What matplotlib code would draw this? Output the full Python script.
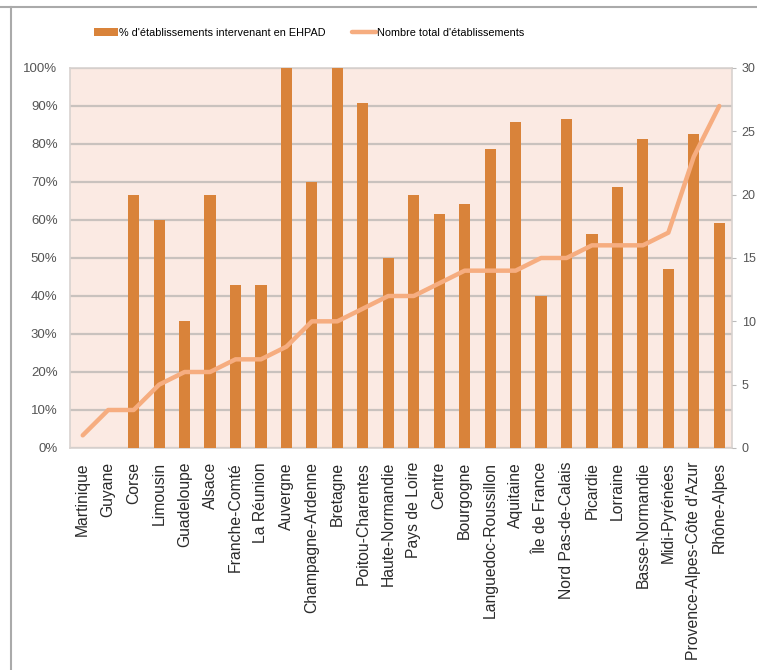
import matplotlib as mpl
mpl.use('Agg')
import matplotlib.pyplot as plt
from matplotlib.lines import Line2D
import numpy as np

regions = ["Martinique", "Guyane", "Corse", "Limousin", "Guadeloupe", "Alsace",
           "Franche-Comté", "La Réunion", "Auvergne", "Champagne-Ardenne", "Bretagne",
           "Poitou-Charentes", "Haute-Normandie", "Pays de Loire", "Centre", "Bourgogne",
           "Languedoc-Roussillon", "Aquitaine", "Île de France", "Nord Pas-de-Calais",
           "Picardie", "Lorraine", "Basse-Normandie", "Midi-Pyrénées",
           "Provence-Alpes-Côte d'Azur", "Rhône-Alpes"]
# % of establishments intervening in EHPAD (left axis)
pct_ehpad = [0, 0, 66.7, 60.0, 33.3, 66.7, 42.9, 42.9, 100, 70.0, 100, 90.9,
             50.0, 66.7, 61.5, 64.3, 78.6, 85.7, 40.0, 86.7, 56.3, 68.8, 81.3,
             47.1, 82.6, 59.3]
# total number of establishments (right axis)
nb_total = [1, 3, 3, 5, 6, 6, 7, 7, 8, 10, 10, 11, 12, 12, 13, 14, 14, 14, 15,
            15, 16, 16, 16, 17, 23, 27]
left_ticks = [0, 10, 20, 30, 40, 50, 60, 70, 80, 90, 100]
right_ticks = [0, 5, 10, 15, 20, 25, 30]

bar_color = "#D9833A"
line_color = "#F6AD80"
bg_color = "#FBEAE3"
grid_color = "#C9C2BE"
label_font = ['Liberation Sans', 'DejaVu Sans']
narrow_font = ['Liberation Sans Narrow', 'Liberation Sans', 'DejaVu Sans']

W, H = 757, 670
fig = plt.figure(figsize=(W / 100, H / 100), dpi=100)
ax = fig.add_axes([70 / W, 222 / H, 662 / W, 380 / H])
ax.set_facecolor(bg_color)

x = np.arange(len(regions))
ax.bar(x, pct_ehpad, width=0.44, color=bar_color, zorder=3,
       label="% d'établissements intervenant en EHPAD")
ax.set_ylim(0, 100)
ax.set_xlim(-0.5, len(regions) - 0.5)
ax.set_yticks(left_ticks)
ax.set_yticklabels(["%d%%" % t for t in left_ticks], family=narrow_font, fontsize=9.5,
                   color="#555555")
ax.yaxis.grid(True, color=grid_color, lw=1.6, zorder=0)
ax.set_axisbelow(True)
ax.tick_params(axis='y', length=0, pad=9)
ax.set_xticks(x)
ax.set_xticklabels(regions, rotation=90, family=label_font, fontsize=11.3, color="#2a2a2a")
ax.tick_params(axis='x', length=0, pad=10)
for s in ax.spines.values():
    s.set_color("#D8D2CF")
    s.set_linewidth(1.2)

ax2 = ax.twinx()
ax2.plot(x, nb_total, color=line_color, lw=3.2, solid_joinstyle='round',
         solid_capstyle='round', zorder=4, label="Nombre total d'établissements")
ax2.set_ylim(0, 30)
ax2.set_yticks(right_ticks)
ax2.set_yticklabels([str(t) for t in right_ticks], family=narrow_font, fontsize=9,
                    color="#555555")
ax2.tick_params(axis='y', length=3, color="#BBBBBB", pad=4)
for s in ax2.spines.values():
    s.set_visible(False)

h1, l1 = ax.get_legend_handles_labels()
h2, l2 = ax2.get_legend_handles_labels()
fig.legend(h1 + h2, l1 + l2, loc='center', bbox_to_anchor=(309 / W, 1 - 33 / H),
           ncol=2, frameon=False, prop={'family': narrow_font, 'size': 7.8},
           handlelength=2.2, handletextpad=0.1, columnspacing=2.5)

# frame of the original screenshot
fig.add_artist(Line2D([0, 1], [1 - 7 / H, 1 - 7 / H], color="#AAAAAA", lw=1.5))
fig.add_artist(Line2D([11 / W, 11 / W], [0, 1 - 7 / H], color="#AAAAAA", lw=1.5))

fig.savefig("out.png", dpi=100)
